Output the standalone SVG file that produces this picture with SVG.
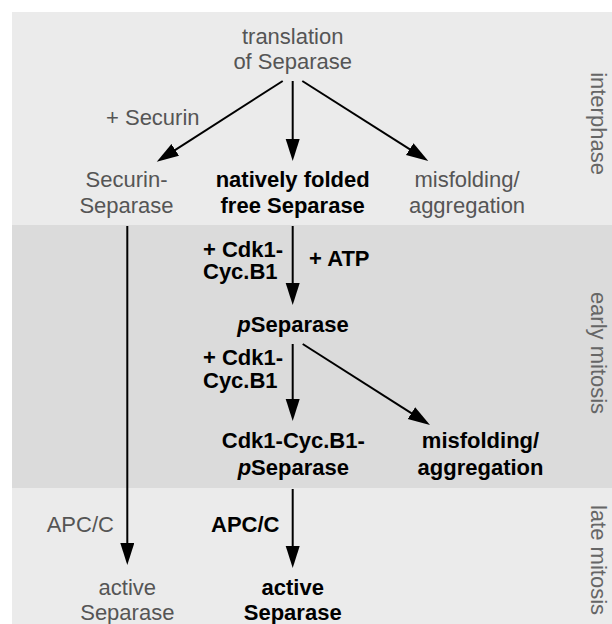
<svg xmlns="http://www.w3.org/2000/svg" width="612" height="624" viewBox="0 0 612 624">
<style>
text{font-family:"Liberation Sans",Arial,Helvetica,sans-serif;font-size:22px}
.g{fill:#555555}
.b{fill:#000000;font-weight:bold}
.m{text-anchor:middle}
.side{fill:#666666;text-anchor:middle}
.c line{stroke:#000;stroke-width:2;marker-end:url(#ah)}
</style>
<defs>
<marker id="ah" markerUnits="userSpaceOnUse" markerWidth="24" markerHeight="16" refX="11" refY="7" orient="auto">
<path d="M0,0 L22,7 L0,14 Z" fill="#000"/>
</marker>
</defs>
<rect width="612" height="624" fill="#ffffff"/>
<g id="bands">
<rect x="12" y="12" width="600" height="213" fill="#ebebeb"/>
<rect x="12" y="225" width="600" height="263" fill="#dbdbdb"/>
<rect x="12" y="488" width="600" height="136" fill="#ebebeb"/>
<text class="side" transform="translate(591,123.5) rotate(90)">interphase</text>
<text class="side" transform="translate(591,353) rotate(90)">early mitosis</text>
<text class="side" transform="translate(591,560) rotate(90)">late mitosis</text>
</g>
<g id="connectors" class="c">
<line x1="282.7" y1="81" x2="166" y2="155.8"/>
<line x1="292.7" y1="81" x2="292.7" y2="150"/>
<line x1="302.3" y1="81" x2="419" y2="155.1"/>
<line x1="127.3" y1="226" x2="127.3" y2="554"/>
<line x1="292.7" y1="226" x2="292.7" y2="294"/>
<line x1="292.7" y1="344" x2="292.7" y2="410"/>
<line x1="302.7" y1="344" x2="420.7" y2="419.1"/>
<line x1="292.7" y1="489" x2="292.7" y2="557"/>
</g>
<g id="labels">
<text class="g" x="106" y="125">+ Securin</text>
<text class="b" x="203" y="256.7">+ Cdk1-</text>
<text class="b" x="203" y="279.3">Cyc.B1</text>
<text class="b" x="309" y="266">+ ATP</text>
<text class="b" x="203" y="365">+ Cdk1-</text>
<text class="b" x="203" y="388">Cyc.B1</text>
<text class="g" x="46.7" y="532">APC/C</text>
<text class="b" x="211" y="532">APC/C</text>
</g>
<g id="n-translation"><text class="g m" x="292.7" y="43.5">translation</text><text class="g m" x="292.7" y="69">of Separase</text></g>
<g id="n-securin-separase"><text class="g m" x="126.5" y="187">Securin-</text><text class="g m" x="126.5" y="212.7">Separase</text></g>
<g id="n-native"><text class="b m" x="292.7" y="187">natively folded</text><text class="b m" x="292.7" y="212.7">free Separase</text></g>
<g id="n-misfold1"><text class="g m" x="467" y="187">misfolding/</text><text class="g m" x="467" y="212.7">aggregation</text></g>
<g id="n-pseparase"><text class="b m" x="293" y="331.7"><tspan font-style="italic">p</tspan>Separase</text></g>
<g id="n-complex"><text class="b m" x="293.3" y="448.3">Cdk1-Cyc.B1-</text><text class="b m" x="293.3" y="475"><tspan font-style="italic">p</tspan>Separase</text></g>
<g id="n-misfold2"><text class="b m" x="480.5" y="448.3">misfolding/</text><text class="b m" x="480.5" y="475">aggregation</text></g>
<g id="n-active1"><text class="g m" x="127.3" y="595">active</text><text class="g m" x="127.3" y="620">Separase</text></g>
<g id="n-active2"><text class="b m" x="292.7" y="595">active</text><text class="b m" x="292.7" y="620">Separase</text></g>
</svg>
